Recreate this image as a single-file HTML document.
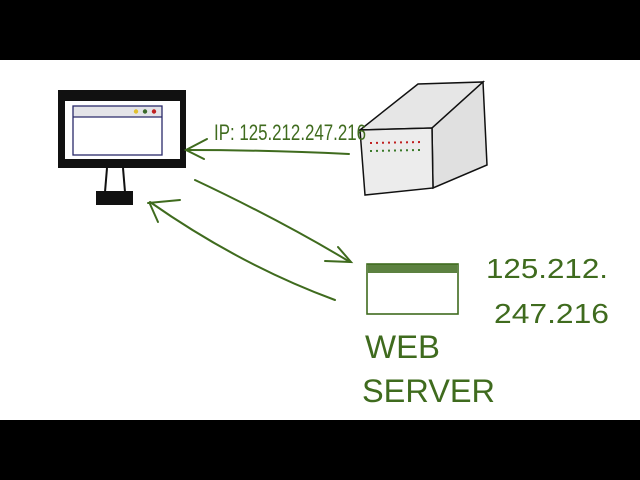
<!DOCTYPE html>
<html><head><style>html,body{margin:0;padding:0;background:#000}svg{display:block}</style></head>
<body>
<svg width="640" height="480" viewBox="0 0 640 480" xmlns="http://www.w3.org/2000/svg">
<rect x="0" y="0" width="640" height="480" fill="#000"/>
<rect x="0" y="60" width="640" height="360" fill="#fff"/>
<!-- monitor -->
<rect x="58" y="90" width="128" height="78" fill="#111"/>
<rect x="65" y="101" width="115" height="58" fill="#fff"/>
<rect x="73" y="106" width="89" height="11" fill="#e4e4e8"/>
<rect x="73" y="106" width="89" height="49" fill="none" stroke="#2a2a6a" stroke-width="1.3"/>
<line x1="73" y1="117" x2="162" y2="117" stroke="#2a2a6a" stroke-width="1.3"/>
<circle cx="136" cy="111.5" r="2.2" fill="#e0c030"/>
<circle cx="145" cy="111.5" r="2.2" fill="#3a6a2a"/>
<circle cx="154" cy="111.5" r="2.2" fill="#c02020"/>
<line x1="107" y1="168" x2="105" y2="192" stroke="#111" stroke-width="2"/>
<line x1="123" y1="168" x2="125" y2="192" stroke="#111" stroke-width="2"/>
<rect x="96" y="191" width="37" height="14" fill="#111"/>
<!-- server box -->
<polygon points="360,130 418,84 483,82 432,128" fill="#e6e6e6" stroke="#111" stroke-width="1.5"/>
<polygon points="432,128 483,82 487,165 433,188" fill="#e0e0e0" stroke="#111" stroke-width="1.5"/>
<polygon points="360,130 432,128 433,188 365,195" fill="#ececec" stroke="#111" stroke-width="1.5"/>
<line x1="370" y1="143" x2="423" y2="142" stroke="#c02020" stroke-width="2" stroke-dasharray="2,4"/>
<line x1="370" y1="151" x2="420" y2="150" stroke="#3a7a2a" stroke-width="2" stroke-dasharray="2,4"/>
<!-- arrows -->
<g stroke="#3f6b1e" stroke-width="2" fill="none" stroke-linecap="round">
<path d="M349,154 Q270,150 186,150"/>
<path d="M207,139 L186,150 L204,159"/>
<path d="M195,180 Q280,220 350,262"/>
<path d="M325,261 L351,262 L338,247"/>
<path d="M335,300 Q240,265 150,202"/>
<path d="M148,203 L180,200 M150,204 L158,222"/>
</g>
<text x="214" y="140" font-family="Liberation Sans Narrow, Liberation Sans, sans-serif" font-size="22" fill="#3f6b1e" textLength="152" lengthAdjust="spacingAndGlyphs">IP: 125.212.247.216</text>
<!-- web server -->
<rect x="367" y="264" width="91" height="50" fill="#fff" stroke="#3f6b1e" stroke-width="1.6"/>
<rect x="368" y="264" width="89" height="9" fill="#3f6b1e" opacity="0.85"/>
<g font-family="Liberation Sans, sans-serif" fill="#3f6b1e">
<text x="486" y="278" font-size="28" textLength="122" lengthAdjust="spacingAndGlyphs">125.212.</text>
<text x="494" y="323" font-size="28" textLength="115" lengthAdjust="spacingAndGlyphs">247.216</text>
<text x="365" y="358" font-size="32" textLength="75" lengthAdjust="spacingAndGlyphs">WEB</text>
<text x="362" y="402" font-size="32" textLength="133" lengthAdjust="spacingAndGlyphs">SERVER</text>
</g>
</svg>
</body></html>
